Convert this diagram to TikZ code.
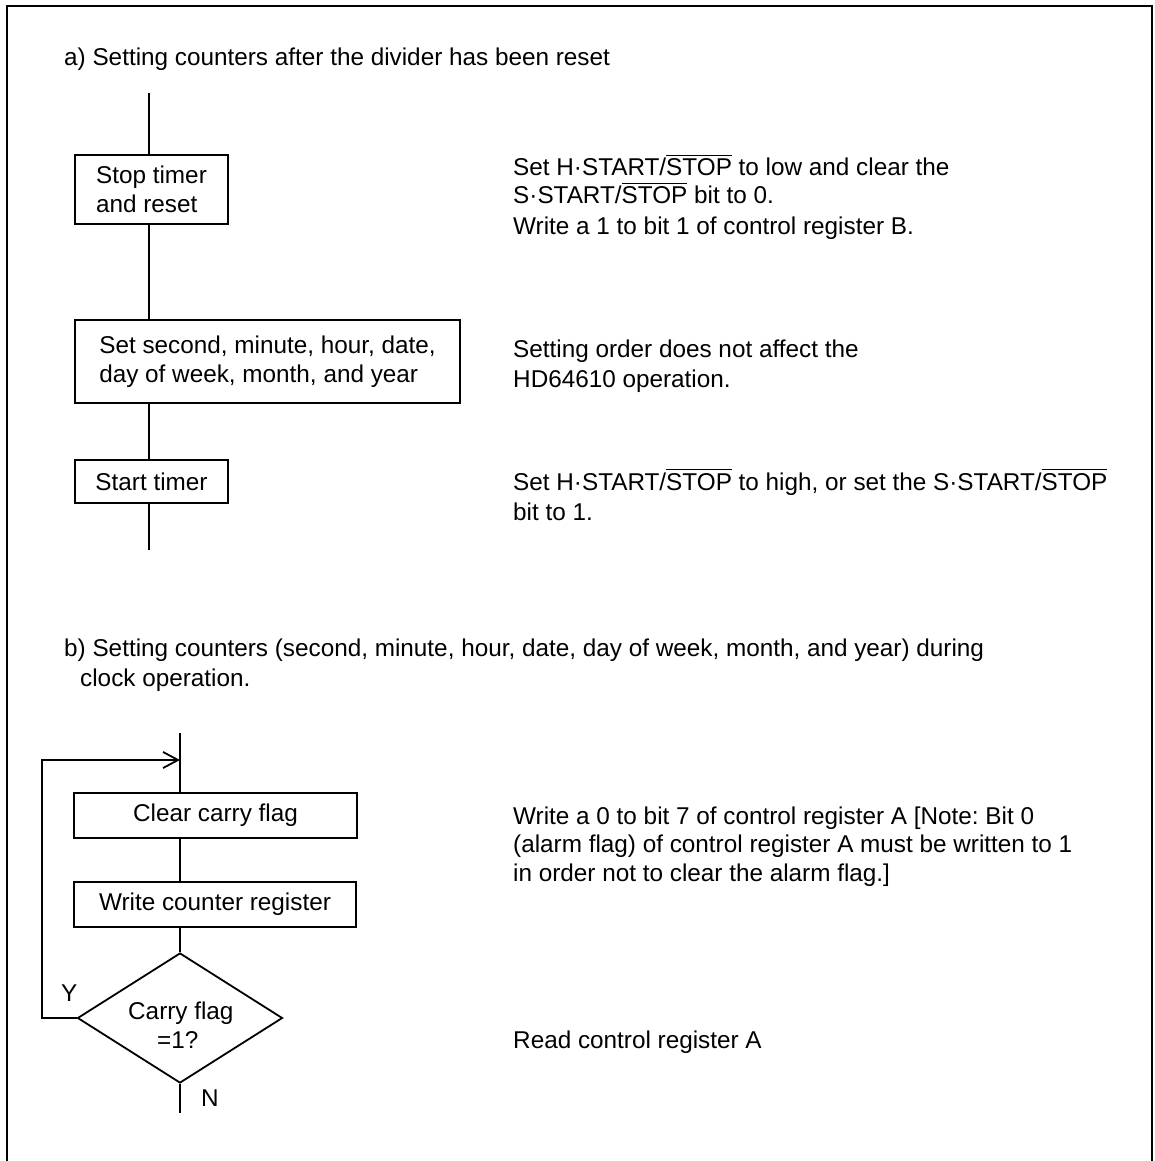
\documentclass[tikz,border=0pt]{standalone}
\usepackage{fontspec}
\setmainfont{Liberation Sans}
\usetikzlibrary{shapes.geometric,arrows.meta}
\frenchspacing
\newcommand\ovl[1]{\setbox0\hbox{#1}\rlap{\rule[0.82em]{\wd0}{1.3pt}}\copy0\relax}
\begin{document}
\begin{tikzpicture}[x=1pt,y=-1pt,
  every node/.style={font=\fontsize{24.3}{29}\selectfont},
  txt/.style={anchor=base west, inner sep=0pt},
  box/.style={draw, line width=1.8pt, align=left, inner sep=0pt},
  cbox/.style={draw, line width=1.8pt, align=center, inner sep=0pt},
  flow/.style={line width=1.8pt},
]
\useasboundingbox (0,0) rectangle (1155,1161);
\draw[line width=2.4pt] (7,1161) -- (7,6) -- (1152,6) -- (1152,1161);

% ---- part a
\node[txt] (ta) at (64,66) {a) Setting counters after the divider has been reset};
\coordinate (a0) at (149,93);
\node[box, minimum width=153pt, minimum height=69pt] (s1) at (151.5,189.5) {Stop timer\\and reset};
\node[box, minimum width=385pt, minimum height=83pt] (s2) at (267.5,361.5) {Set second, minute, hour, date,\\day of week, month, and year};
\node[box, minimum width=153pt, minimum height=43pt] (s3) at (151.5,481.5) {Start timer};
\coordinate (a1) at (149,550);
\draw[flow] (a0) -- (a0 |- s1.north);
\draw[flow] (s1.south -| a0) -- (s2.north -| a0);
\draw[flow] (s2.south -| a0) -- (s3.north -| a0);
\draw[flow] (s3.south -| a0) -- (a1);

\node[txt] (r1) at (513,176) {Set H·START/\ovl{STOP} to low and clear the};
\node[txt] (r2) at (513,204) {S·START/\ovl{STOP} bit to 0.};
\node[txt] (r3) at (513,234) {Write a 1 to bit 1 of control register B.};
\node[txt] (r4) at (513,357) {Setting order does not affect the};
\node[txt] (r5) at (513,387) {HD64610 operation.};
\node[txt] (r6) at (513,490) {Set H·START/\ovl{STOP} to high, or set the S·START/\ovl{STOP}};
\node[txt] (r7) at (513,520) {bit to 1.};

% ---- part b
\node[txt] (tb1) at (64,656) {b) Setting counters (second, minute, hour, date, day of week, month, and year) during};
\node[txt] (tb2) at (80,686) {clock operation.};
\coordinate (b0) at (180,733);
\coordinate (lp) at (42,760);
\node[cbox, minimum width=283pt, minimum height=45pt] (c1) at (215.5,815.5) {Clear carry flag};
\node[cbox, minimum width=282pt, minimum height=45pt] (c2) at (215,904.5) {Write counter register};
\node[draw, diamond, line width=1.8pt, minimum width=205pt, minimum height=130pt, inner sep=0pt] (d) at (180,1018) {};
\node[txt] (dt1) at (128,1019.5) {Carry flag};
\node[txt] (dt2) at (157,1048.5) {=1?};
\coordinate (b1) at (180,1113);
\draw[flow] (b0) -- (c1.north -| b0);
\draw[flow] (c1.south -| b0) -- (c2.north -| b0);
\draw[flow] (c2.south -| b0) -- (d.north);
\draw[flow] (d.south) -- (b1);
\draw[flow, -{Straight Barb[length=15pt,width=16pt,line width=1.8pt]}] (d.west) -- (d.west -| lp) -- (lp) -- (lp -| b0);
\node[txt] (ly) at (61,1001) {Y};
\node[txt] (ln) at (201,1106) {N};

\node[txt] (q1) at (513,824) {Write a 0 to bit 7 of control register A [Note: Bit 0};
\node[txt] (q2) at (513,852) {(alarm flag) of control register A must be written to 1};
\node[txt] (q3) at (513,881) {in order not to clear the alarm flag.]};
\node[txt] (q4) at (513,1048) {Read control register A};
\end{tikzpicture}
\end{document}
